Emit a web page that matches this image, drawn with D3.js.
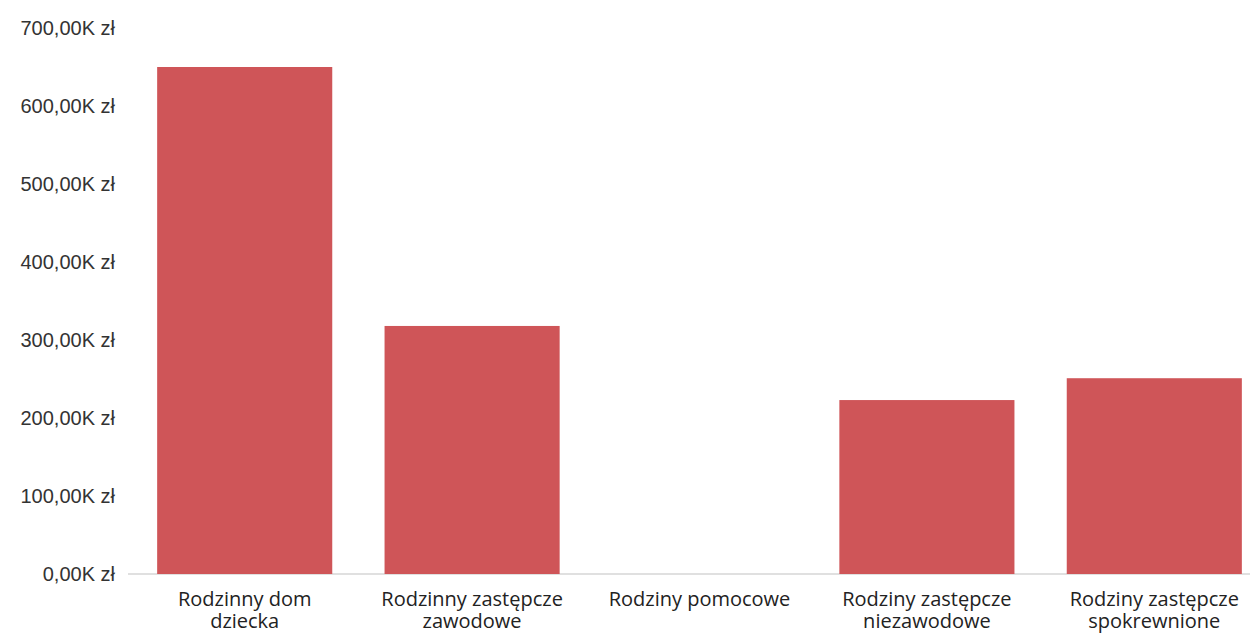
<!DOCTYPE html>
<html>
<head>
<meta charset="utf-8">
<title>Rodziny zastępcze</title>
<style>
  body { margin: 0; background: #fff; }
  #chart svg { display: block; font-family: "Open Sans", sans-serif; }
</style>
<script src="https://cdnjs.cloudflare.com/ajax/libs/d3/7.8.5/d3.min.js"></script>
</head>
<body>
<div id="chart"></div>
<script>
// kategorie i wartości (zł)
var categories = [
  ["Rodzinny dom", "dziecka"],
  ["Rodzinny zastępcze", "zawodowe"],
  ["Rodziny pomocowe"],
  ["Rodziny zastępcze", "niezawodowe"],
  ["Rodziny zastępcze", "spokrewnione"]
];
var values = [650000, 318000, 0, 223000, 251000];
var yTicks = [0, 100000, 200000, 300000, 400000, 500000, 600000, 700000];

var width = 1250, height = 643;
var svg = d3.select("#chart").append("svg")
  .attr("width", width)
  .attr("height", height);

var x = d3.scaleBand()
  .domain(d3.range(categories.length))
  .range([131, 1268])
  .paddingInner(0.23)
  .paddingOuter(0.115);

var y = d3.scaleLinear()
  .domain([0, 700000])
  .range([574, 28]);

var fmt = function(d) {
  return d3.format(",.2f")(d / 1000).replace(/,/g, " ").replace(".", ",") + "K zł";
};

// oś Y
var yAxis = svg.append("g")
  .attr("transform", "translate(119,0)")
  .call(d3.axisLeft(y).tickValues(yTicks).tickFormat(fmt).tickSize(0).tickPadding(4));
yAxis.select(".domain").remove();
yAxis.selectAll("text")
  .style("font-size", "20px")
  .style("fill", "#333");

// linia bazowa
svg.append("line")
  .attr("x1", 128).attr("x2", 1250)
  .attr("y1", y(0)).attr("y2", y(0))
  .attr("stroke", "#d6d6d6")
  .attr("stroke-width", 1.5);

// słupki
svg.selectAll("rect.bar")
  .data(values)
  .enter().append("rect")
  .attr("class", "bar")
  .attr("x", function(d, i) { return x(i); })
  .attr("width", x.bandwidth())
  .attr("y", function(d) { return y(d); })
  .attr("height", function(d) { return y(0) - y(d); })
  .attr("fill", "#cf5558");

// etykiety kategorii
var labels = svg.selectAll("text.cat")
  .data(categories)
  .enter().append("text")
  .attr("class", "cat")
  .attr("text-anchor", "middle")
  .attr("x", function(d, i) { return x(i) + x.bandwidth() / 2; })
  .attr("y", 606)
  .style("font-size", "20px")
  .style("fill", "#222");
labels.selectAll("tspan")
  .data(function(d) { return d; })
  .enter().append("tspan")
  .attr("x", function() { return d3.select(this.parentNode).attr("x"); })
  .attr("dy", function(d, i) { return i === 0 ? 0 : 22; })
  .text(function(d) { return d; });
</script>
</body>
</html>
